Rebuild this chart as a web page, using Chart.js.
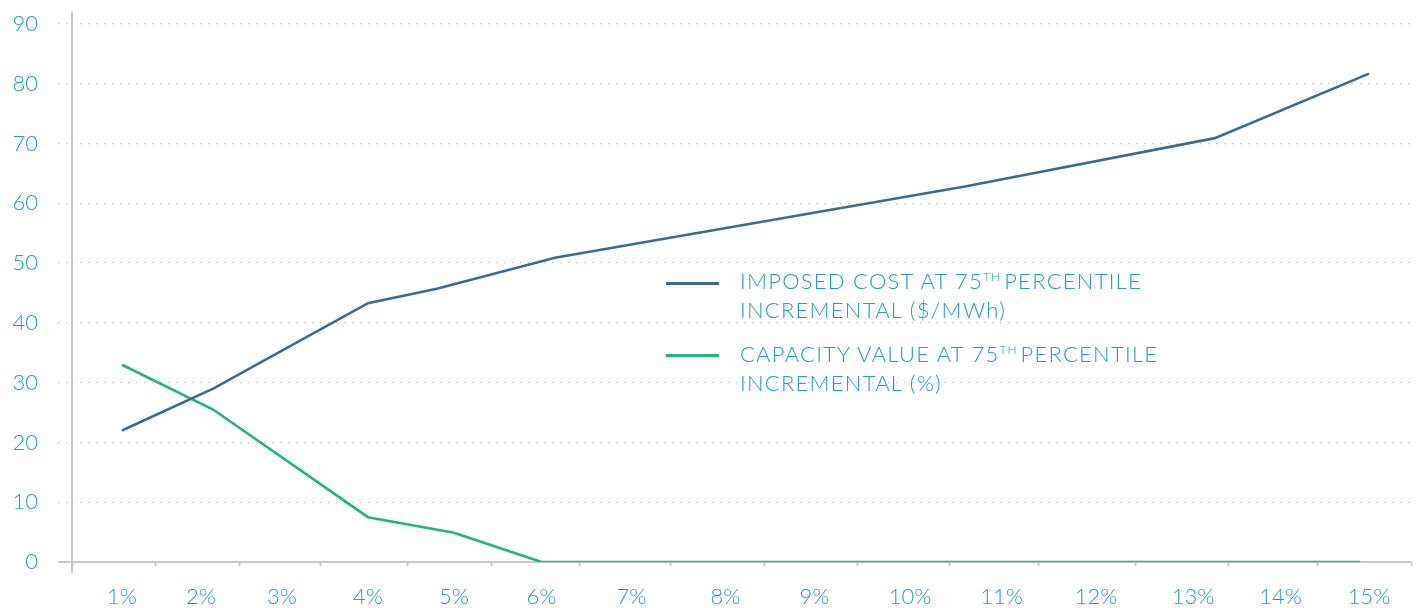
<!DOCTYPE html>
<html lang="en">
<head>
<meta charset="UTF-8">
<title>Imposed cost and capacity value at 75th percentile</title>
<script src="https://cdn.jsdelivr.net/npm/chart.js"></script>
<style>
    body { margin: 0; background: #fff; font-family: Lato, "Open Sans", sans-serif; }
    .wrap { position: relative; width: 1422px; height: 608px; }
    canvas { display: block; }

    /* legend sits inside the plot, right of centre */
    .legend {
        position: absolute;
        left: 666px;
        top: 266px;
        color: #2399d3;
        font-weight: 300;
        font-size: 22px;
        letter-spacing: 1.25px;
        line-height: 29px;
    }
    .item { position: relative; padding-left: 74px; white-space: nowrap; }
    .item + .item { margin-top: 15px; }
    .swatch { position: absolute; left: 0; top: 16px; width: 53px; height: 3px; }
    .item + .item .swatch { top: 15px; }
    .sup { font-size: 12px; line-height: 0; position: relative; top: -8px; letter-spacing: 1px; margin-right: 3px; }
</style>
</head>
<body>
<div class="wrap">
    <canvas id="chart" width="1422" height="608"></canvas>
    <div class="legend">
        <div class="item"><span class="swatch" style="background:#3e6a8c"></span>IMPOSED COST AT 75<span class="sup">TH</span>PERCENTILE<br>INCREMENTAL ($/MWh)</div>
        <div class="item"><span class="swatch" style="background:#22b574"></span>CAPACITY VALUE AT 75<span class="sup">TH</span>PERCENTILE<br>INCREMENTAL (%)</div>
    </div>
</div>

<script>
    // categories and ticks
    var xLabels = ['1%', '2%', '3%', '4%', '5%', '6%', '7%', '8%', '9%', '10%', '11%', '12%', '13%', '14%', '15%'];
    var yTicks = [0, 10, 20, 30, 40, 50, 60, 70, 80, 90];

    // imposed cost ($/MWh) vs penetration (%)
    var costPct = [1, 2.15, 4, 4.8, 6.15, 10.6, 13.25, 15];
    var costVal = [22, 29, 43.3, 45.7, 50.9, 62.8, 70.9, 81.7];

    // capacity value (%) vs penetration (%)
    var capPct = [1, 2.15, 4, 5, 6, 7, 8, 9, 10, 11, 12, 13, 14, 14.9];
    var capVal = [33, 25.5, 7.5, 4.9, 0, 0, 0, 0, 0, 0, 0, 0, 0, 0];

    // the axis in the original is not evenly spaced: slot edges (tick marks)
    // and label centres, in slot units 0..15
    var slotEdges = [0, 0.941, 1.882, 2.789, 3.764, 4.705, 5.680, 6.710, 7.763, 8.794, 9.825, 10.822, 11.919, 12.961, 13.958, 15];
    var labelCenters = [0.560, 1.445, 2.352, 3.316, 4.279, 5.260, 6.268, 7.321, 8.318, 9.388, 10.413, 11.471, 12.558, 13.538, 14.530];

    // percent -> position on the drawn axis
    function toAxis(p) {
        var i = Math.min(Math.max(Math.floor(p) - 1, 0), labelCenters.length - 2);
        var t = p - (i + 1);
        return labelCenters[i] + t * (labelCenters[i + 1] - labelCenters[i]);
    }
    function points(xs, ys) {
        return xs.map(function (p, i) { return { x: toAxis(p), y: ys[i] }; });
    }

    var textColor = '#2399d3';
    var axisColor = '#c6c9d1';
    var dotColor = '#c4c4c4';
    var tickFont = { family: 'Lato', size: 22, weight: 300 };

    // solid axis lines that run a little past the plot, like the original
    var axesLines = {
        id: 'axesLines',
        beforeDatasetsDraw: function (chart) {
            var ctx = chart.ctx, a = chart.chartArea;
            ctx.save();
            ctx.strokeStyle = axisColor;
            ctx.lineWidth = 2;
            ctx.beginPath();
            ctx.moveTo(a.left, a.top);
            ctx.lineTo(a.left, a.bottom + 11);
            ctx.moveTo(a.left - 14, a.bottom);
            ctx.lineTo(a.right, a.bottom);
            ctx.stroke();
            ctx.restore();
        }
    };

    var chart = new Chart(document.getElementById('chart'), {
        type: 'line',
        data: {
            datasets: [{
                label: 'Imposed cost at 75th percentile incremental ($/MWh)',
                data: points(costPct, costVal),
                borderColor: '#3e6a8c',
                borderWidth: 2.6,
                pointRadius: 0,
                fill: false,
                tension: 0
            }, {
                label: 'Capacity value at 75th percentile incremental (%)',
                data: points(capPct, capVal),
                borderColor: '#22b574',
                borderWidth: 2.6,
                pointRadius: 0,
                fill: false,
                tension: 0
            }]
        },
        options: {
            responsive: false,
            animation: false,
            devicePixelRatio: 1,
            layout: { padding: { top: 12, right: 11, left: 0, bottom: 0 } },
            plugins: { legend: { display: false }, tooltip: { enabled: false } },
            scales: {
                x: {
                    type: 'linear',
                    min: 0,
                    max: 15,
                    afterBuildTicks: function (s) {
                        s.ticks = labelCenters.concat(slotEdges).map(function (v) { return { value: v }; });
                    },
                    afterFit: function (s) {
                        s.height = 46;
                        s.paddingLeft = 0;
                        s.paddingRight = 0;
                    },
                    grid: {
                        drawOnChartArea: false,
                        tickLength: 4,
                        tickWidth: 2,
                        tickColor: function (c) { return c.index < xLabels.length ? 'rgba(0,0,0,0)' : axisColor; }
                    },
                    border: { display: false },
                    ticks: {
                        autoSkip: false,
                        maxRotation: 0,
                        padding: 18,
                        color: textColor,
                        font: tickFont,
                        callback: function (v, i) { return i < xLabels.length ? xLabels[i] : ''; }
                    }
                },
                y: {
                    min: 0,
                    max: 92,
                    afterBuildTicks: function (s) {
                        s.ticks = yTicks.map(function (v) { return { value: v }; });
                    },
                    afterFit: function (s) {
                        s.width = 72;
                        s.paddingTop = 0;
                        s.paddingBottom = 0;
                    },
                    grid: {
                        color: dotColor,
                        lineWidth: 1.3,
                        tickLength: 14,
                        tickColor: dotColor,
                        tickWidth: 1.3,
                        tickBorderDash: [1.5, 6.5]
                    },
                    border: { display: false, dash: [1.5, 6.5] },
                    ticks: { padding: 20, color: textColor, font: tickFont }
                }
            }
        },
        plugins: [axesLines]
    });
</script>
</body>
</html>
